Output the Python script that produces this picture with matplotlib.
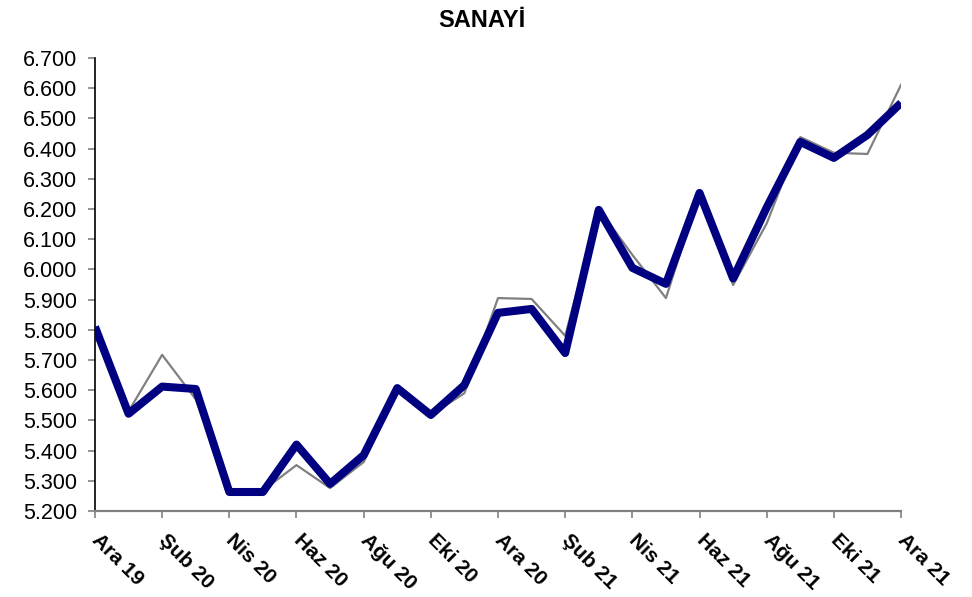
import matplotlib
matplotlib.use("Agg")
import matplotlib.pyplot as plt
from matplotlib.ticker import FuncFormatter

plt.rcParams['font.family'] = ['Liberation Sans', 'DejaVu Sans']

# aylar: Ara 19 .. Ara 21
aylar = ["Ara 19", "Oca 20", "Şub 20", "Mar 20", "Nis 20", "May 20", "Haz 20",
         "Tem 20", "Ağu 20", "Eyl 20", "Eki 20", "Kas 20", "Ara 20", "Oca 21",
         "Şub 21", "Mar 21", "Nis 21", "May 21", "Haz 21", "Tem 21", "Ağu 21",
         "Eyl 21", "Eki 21", "Kas 21", "Ara 21"]

# ince gri seri
gri = [5800, 5530, 5717, 5570, 5270, 5268, 5352, 5276, 5362, 5595,
       5518, 5590, 5905, 5902, 5780, 6200, 6048, 5905, 6253, 5948,
       6152, 6438, 6386, 6382, 6611]

# kalin lacivert seri
lacivert = [5810, 5522, 5612, 5604, 5263, 5263, 5420, 5290, 5385, 5607,
            5518, 5617, 5856, 5869, 5723, 6197, 6005, 5952, 6253, 5970,
            6205, 6422, 6369, 6445, 6551]

x = list(range(len(aylar)))

fig = plt.figure(figsize=(9.72, 5.97), dpi=100)
ax = fig.add_axes([0.0977, 0.144, 0.8293, 0.759])

ax.plot(x, gri, color="#808080", lw=1.6, zorder=2)
ax.plot(x, lacivert, color="#000080", lw=5.8, solid_joinstyle="round",
        solid_capstyle="butt", zorder=3)

ax.set_xlim(0, len(aylar) - 1)
ax.set_ylim(5200, 6700)
ax.set_yticks(range(5200, 6701, 100))
ax.yaxis.set_major_formatter(FuncFormatter(lambda v, p: f"{v:,.0f}".replace(",", ".")))
ax.tick_params(axis="y", labelsize=15.5, length=5, width=1.2, color="#808080", pad=8)

ax.set_xticks(x[::2])
ax.set_xticklabels(aylar[::2], rotation=-45, ha="left", va="center",
                   rotation_mode="anchor", fontsize=15, fontweight="bold")
ax.tick_params(axis="x", length=5, width=1.2, color="#808080", pad=14)

for s in ["top", "right"]:
    ax.spines[s].set_visible(False)
ax.spines["left"].set_color("black")
ax.spines["bottom"].set_color("#808080")
ax.spines["left"].set_linewidth(1.2)
ax.spines["bottom"].set_linewidth(1.6)

fig.suptitle("SANAYİ", x=0.496, y=0.985, fontsize=17, fontweight="bold")

fig.savefig("out.png", dpi=100)
